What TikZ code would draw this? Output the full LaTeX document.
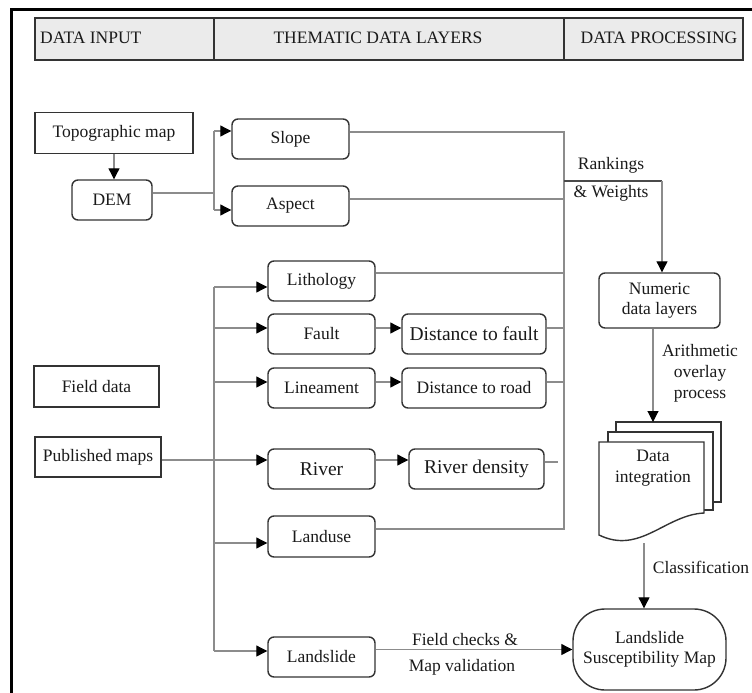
\documentclass[tikz,border=0pt]{standalone}
\usepackage{fontspec}
\setmainfont{Liberation Serif}
\usetikzlibrary{arrows.meta,calc}
\definecolor{txtcol}{HTML}{1A1A1A}
\definecolor{bordcol}{HTML}{333333}
\definecolor{conncol}{HTML}{8C8C8C}
\definecolor{darkcol}{HTML}{4A4A4A}
\definecolor{hdrcol}{HTML}{EBEBEB}
\begin{document}
\begin{tikzpicture}[x=1pt,y=-1pt,
  box/.style={draw=bordcol,line width=1.4pt,fill=white,text=txtcol,font=\fontsize{17.5}{20}\selectfont,inner sep=0pt,align=center},
  sharpbox/.style={box},
  rbox/.style={box,rounded corners=6pt},
  bigtxt/.style={font=\fontsize{19.5}{23}\selectfont},
  conn/.style={draw=conncol,line width=1.1pt},
  arr/.style={conn,-{Triangle[length=11pt,width=11pt,color=black]}},
  lbl/.style={text=txtcol,font=\fontsize{17.5}{21}\selectfont,inner sep=0pt,align=center},
  hdrtxt/.style={text=txtcol,font=\fontsize{17.5}{20}\selectfont,inner sep=0pt,anchor=base},
  docline/.style={draw=bordcol,line width=1.4pt},
]
\useasboundingbox (0,0) rectangle (752,693);
% outer frame
\draw[line width=3pt,black] (11,693) -- (11,10) -- (752,10);
% header
\draw[draw=bordcol,fill=hdrcol,line width=1.2pt] (35,18) rectangle (743,60);
\draw[draw=bordcol,line width=1.2pt] (214,18) -- (214,60);
\draw[draw=bordcol,line width=1.2pt] (564,18) -- (564,60);
\node[hdrtxt,anchor=base west] (h1) at (40,44) {DATA INPUT};
\node[hdrtxt] (h2) at (378,44) {THEMATIC DATA LAYERS};
\node[hdrtxt] (h3) at (659,44) {DATA PROCESSING};

% input boxes
\node[sharpbox,minimum width=158pt,minimum height=41pt] (topo) at (114,133) {Topographic map};
\node[rbox,minimum width=80pt,minimum height=40pt] (dem) at (112,200) {DEM};
\node[sharpbox,minimum width=125pt,minimum height=41pt] (field) at (96.5,386.5) {Field data};
\node[sharpbox,minimum width=126pt,minimum height=40pt] (pub) at (98,457) {Published maps};

% thematic layers
\node[rbox,minimum width=117pt,minimum height=40pt] (slope) at (290.5,139) {Slope};
\node[rbox,minimum width=117pt,minimum height=40pt] (aspect) at (290.5,206) {Aspect};
\node[rbox,minimum width=107pt,minimum height=40pt] (litho) at (321.5,281) {Lithology};
\node[rbox,minimum width=107pt,minimum height=40pt] (fault) at (321.5,334) {Fault};
\node[rbox,minimum width=107pt,minimum height=40pt] (linea) at (321.5,388) {Lineament};
\node[rbox,bigtxt,minimum width=107pt,minimum height=40pt] (river) at (321.5,469) {River};
\node[rbox,minimum width=107pt,minimum height=41pt] (landuse) at (321.5,536.5) {Landuse};
\node[rbox,minimum width=107pt,minimum height=40pt] (landslide) at (321.5,657) {Landslide};
\node[rbox,bigtxt,minimum width=144pt,minimum height=40pt] (dfault) at (474,334) {Distance to fault};
\node[rbox,minimum width=144pt,minimum height=40pt] (droad) at (474,388) {Distance to road};
\node[rbox,bigtxt,minimum width=135pt,minimum height=40pt] (rdens) at (476.5,469) {River density};

% processing
\node[rbox,minimum width=121pt,minimum height=55pt] (numeric) at (659.5,300.5) {Numeric\\data layers};
\draw[docline] (616,432) -- (616,422) -- (721,422) -- (721,502) -- (713,502);
\draw[docline] (608,442) -- (608,432) -- (713,432) -- (713,510) -- (704,510);
\draw[docline,fill=white] (599,442) -- (704,442) -- (704,513)
   .. controls (665,515) and (640,555) .. (599,535) -- cycle;
\node[lbl] (ditxt) at (653,468) {Data\\integration};
\node[box,rounded corners=32pt,minimum width=153pt,minimum height=81pt] (lsm) at (649.5,649.5) {Landslide\\Susceptibility Map};

% junction coordinates
\coordinate (jdem) at (214,193);
\coordinate (jslope) at (214,131);
\coordinate (jaspect) at (214,210);
\coordinate (rb1) at (564,132);
\coordinate (rb2) at (564,529);
\coordinate (ra) at (564,199);
\coordinate (rl) at (564,273);
\coordinate (rf) at (564,328);
\coordinate (rr) at (564,382);
\coordinate (rd) at (558,462);
\coordinate (lb1) at (214,287);
\coordinate (lbf) at (214,328);
\coordinate (lbl) at (214,382);
\coordinate (lr) at (214,460);
\coordinate (lbu) at (214,543);
\coordinate (lb2) at (214,651);
\coordinate (rk) at (662,181);
\coordinate (dit) at (653,422);
\coordinate (dib) at (644,543);

% connectors: DEM
\draw[arr] (topo.south) -- (topo.south |- dem.north);
\draw[conn] (jdem -| dem.east) -- (jdem);
\draw[conn] (jslope) -- (jaspect);
\draw[arr] (jslope) -- (jslope -| slope.west);
\draw[arr] (jaspect) -- (jaspect -| aspect.west);

% right bus
\draw[conn] (rb1 -| slope.east) -- (rb1) -- (rb2) -- (rb2 -| landuse.east);
\draw[conn] (ra -| aspect.east) -- (ra);
\draw[conn] (rl -| litho.east) -- (rl);
\draw[conn] (rf -| dfault.east) -- (rf);
\draw[conn] (rr -| droad.east) -- (rr);
\draw[conn] (rd -| rdens.east) -- (rd);

% left bus
\draw[conn] (lb1) -- (lb2);
\draw[arr] (lb1) -- (lb1 -| litho.west);
\draw[arr] (lbf) -- (lbf -| fault.west);
\draw[arr] (lbl) -- (lbl -| linea.west);
\draw[arr] (lr -| pub.east) -- (lr -| river.west);
\draw[arr] (lbu) -- (lbu -| landuse.west);
\draw[arr] (lb2) -- (lb2 -| landslide.west);

% derived layers
\draw[arr] (rf -| fault.east) -- (rf -| dfault.west);
\draw[arr] (rr -| linea.east) -- (rr -| droad.west);
\draw[arr] (lr -| river.east) -- (lr -| rdens.west);

% processing chain
\draw[draw=darkcol,line width=1.3pt] (rk -| rb1) -- (rk);
\draw[arr] (rk) -- (rk |- numeric.north);
\node[lbl] (rank) at (611,165) {Rankings};
\node[lbl] (wts) at (611,193) {\& Weights};
\draw[arr] (dit |- numeric.south) -- (dit);
\node[lbl] (arith) at (700,373) {Arithmetic\\overlay\\process};
\draw[arr] (dib) -- (dib |- lsm.north);
\node[lbl] (cls) at (701,567) {Classification};
\draw[arr] (lsm.west -| landslide.east) -- (lsm.west);
\node[lbl] (fc) at (465,640) {Field checks \&};
\node[lbl] (mv) at (462,667) {Map validation};
\end{tikzpicture}
\end{document}
